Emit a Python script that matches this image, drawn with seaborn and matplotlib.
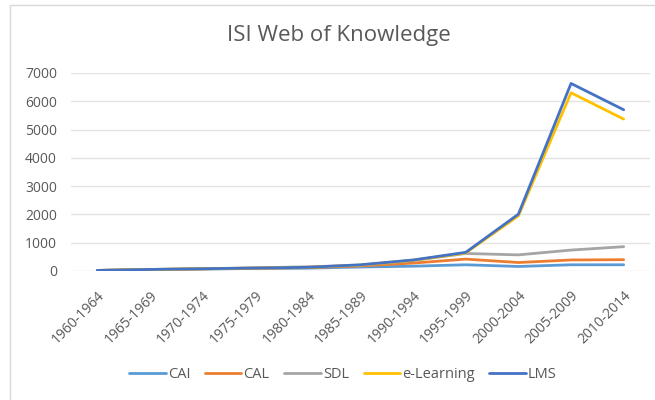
import pandas as pd
import matplotlib
matplotlib.use("Agg")
import matplotlib.pyplot as plt
import seaborn as sns
from matplotlib.patches import Rectangle

periods = ["1960-1964", "1965-1969", "1970-1974", "1975-1979", "1980-1984",
           "1985-1989", "1990-1994", "1995-1999", "2000-2004", "2005-2009",
           "2010-2014"]
cai = [20, 45, 70, 90, 100, 140, 170, 220, 160, 220, 220]
cal = [20, 50, 75, 100, 120, 180, 280, 420, 300, 390, 400]
sdl = [20, 55, 80, 110, 150, 200, 370, 620, 570, 740, 860]
elearning = [20, 55, 80, 105, 130, 210, 380, 640, 1950, 6300, 5370]
lms = [20, 55, 80, 105, 130, 220, 390, 660, 2010, 6630, 5700]

series = {"CAI": cai, "CAL": cal, "SDL": sdl, "e-Learning": elearning, "LMS": lms}
colors = {"CAI": "#5B9BD5", "CAL": "#ED7D31", "SDL": "#A5A5A5",
          "e-Learning": "#FFC000", "LMS": "#4472C4"}

rows = []
for name, vals in series.items():
    for i, v in enumerate(vals):
        rows.append({"pos": i, "Period": periods[i], "Series": name, "Value": v})
df = pd.DataFrame(rows)

sns.set_style("white")
plt.rcParams["font.family"] = ["Open Sans", "DejaVu Sans"]

fig = plt.figure(figsize=(6.55, 4.0), dpi=100)
ax = fig.add_axes([71 / 655, 129 / 400, 579 / 655, 198 / 400])

sns.lineplot(data=df, x="pos", y="Value", hue="Series", palette=colors,
             linewidth=2.0, ax=ax, legend=True)

ax.set_xlim(-0.5, 10.5)
ax.set_ylim(0, 7000)
ax.set_yticks(range(0, 7001, 1000))
ax.set_xticks(range(len(periods)))
ax.set_xticklabels(periods, rotation=45, ha="right", rotation_mode="anchor")
ax.tick_params(axis="both", colors="#595959", labelsize=10, length=0)
ax.tick_params(axis="x", pad=12)
ax.tick_params(axis="y", pad=10)
ax.grid(axis="y", color="#E3E3E3", linewidth=1)
for s in ax.spines.values():
    s.set_visible(False)
ax.set_xlabel("")
ax.set_ylabel("")

fig.text(339 / 655, 1 - 36 / 400, "ISI Web of Knowledge", ha="center", va="center",
         fontsize=16, color="#595959")

handles, labels = ax.get_legend_handles_labels()
ax.legend(handles, labels, loc="center", bbox_to_anchor=(343 / 655, 1 - 375 / 400),
          bbox_transform=fig.transFigure, ncol=5, frameon=False, fontsize=10.5,
          handlelength=2.5, handletextpad=0.15, columnspacing=1.0,
          labelcolor="#595959")

fig.patches.append(Rectangle((10 / 655, -0.05), 1.0, 1.05 - 5 / 400,
                             transform=fig.transFigure, fill=False,
                             edgecolor="#D9D9D9", linewidth=1))

fig.savefig("out.png", dpi=100)
